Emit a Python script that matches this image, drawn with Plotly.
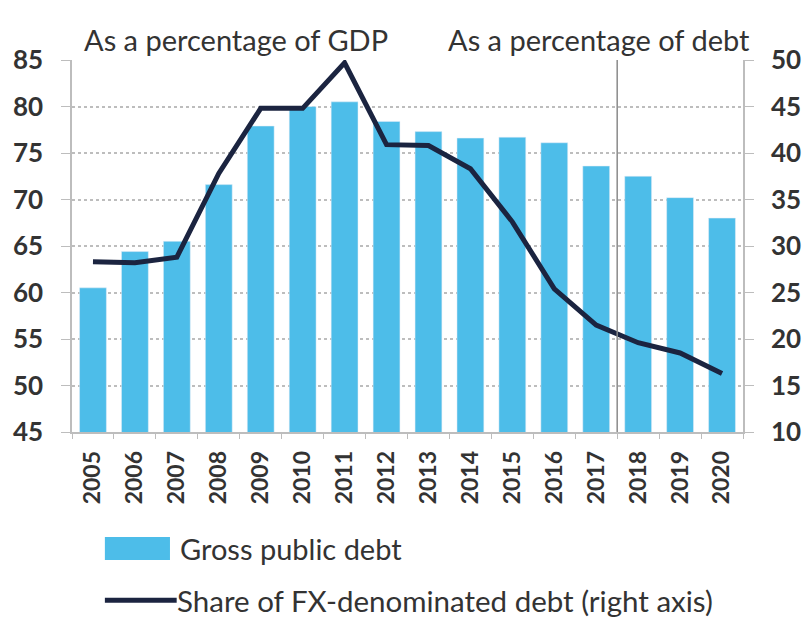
import plotly.graph_objects as go

years = [str(y) for y in range(2005, 2021)]
gross_public_debt = [60.5, 64.4, 65.5, 71.6, 77.9, 80.0, 80.5, 78.4, 77.3, 76.6, 76.7, 76.1, 73.6, 72.5, 70.2, 68.0]
fx_share = [28.3, 28.2, 28.8, 37.8, 44.8, 44.8, 49.7, 40.9, 40.8, 38.3, 32.6, 25.4, 21.5, 19.6, 18.5, 16.3]

left_ticks = [45, 50, 55, 60, 65, 70, 75, 80, 85]
right_ticks = [10, 15, 20, 25, 30, 35, 40, 45, 50]

BAR = "#4dbde9"
LINE = "#1b2440"
FONT = "Lato"
TXT = "#333333"
GRID = "#bdbdbd"

fig = go.Figure()
fig.add_trace(go.Bar(x=years, y=gross_public_debt, marker_color=BAR, name="Gross public debt",
                     yaxis="y", showlegend=False))
fig.add_trace(go.Scatter(x=years, y=fx_share, mode="lines", line=dict(color=LINE, width=5),
                         name="Share of FX-denominated debt (right axis)", yaxis="y2", showlegend=False))

fig.update_layout(
    width=806, height=617,
    margin=dict(l=72, r=63, t=60, b=185),
    paper_bgcolor="white", plot_bgcolor="white",
    bargap=0.36,
    font=dict(family=FONT, color=TXT, size=26),
    xaxis=dict(type="category", tickangle=-90, showgrid=False, showline=True, linecolor=GRID,
               linewidth=1.5, ticks="outside", ticklen=5, tickcolor=GRID, tickson="boundaries",
               tickfont=dict(family=FONT, size=23, color=TXT, weight="bold"), range=[-0.5, 15.5],
               ticklabelstandoff=8, automargin=False),
    yaxis=dict(range=[45, 85], tickvals=left_ticks, showgrid=True, gridcolor=GRID, griddash="dot",
               gridwidth=1.5, showline=True, linecolor=GRID, linewidth=1.5, ticks="outside",
               ticklen=9, tickcolor=GRID, zeroline=False, automargin=False,
               tickfont=dict(family=FONT, size=26, color=TXT, weight="bold"), ticklabelstandoff=13),
    yaxis2=dict(range=[10, 50], tickvals=right_ticks, overlaying="y", side="right", showgrid=False,
                showline=True, linecolor=GRID, linewidth=1.5, ticks="outside", ticklen=9,
                tickcolor=GRID, zeroline=False, automargin=False,
                tickfont=dict(family=FONT, size=26, color=TXT, weight="bold"), ticklabelstandoff=12),
    showlegend=False,
)

# separator between actual and forecast
fig.add_shape(type="line", xref="x", yref="paper", x0=12.5, x1=12.5, y0=0, y1=1,
              line=dict(color="#8a8a8a", width=1.5))

fig.add_annotation(text="As a percentage of GDP", xref="paper", yref="paper", x=0.244, y=1.054,
                   yanchor="middle", xanchor="center", showarrow=False, font=dict(size=29))
fig.add_annotation(text="As a percentage of debt", xref="paper", yref="paper", x=0.785, y=1.054,
                   yanchor="middle", xanchor="center", showarrow=False, font=dict(size=29))

# custom legend
fig.add_shape(type="rect", xref="paper", yref="paper", x0=0.049, x1=0.146, y0=-0.344, y1=-0.282,
              fillcolor=BAR, line=dict(width=0))
fig.add_annotation(text="Gross public debt", xref="paper", yref="paper", x=0.158, y=-0.312,
                   xanchor="left", yanchor="middle", showarrow=False, font=dict(size=29))
fig.add_shape(type="line", xref="paper", yref="paper", x0=0.049, x1=0.156, y0=-0.452, y1=-0.452,
              line=dict(color=LINE, width=5))
fig.add_annotation(text="Share of FX-denominated debt (right axis)", xref="paper", yref="paper",
                   x=0.154, y=-0.452, xanchor="left", yanchor="middle", showarrow=False,
                   font=dict(size=29.5))

fig.write_html("out.html", config={"displayModeBar": False},
               post_script="document.body.style.margin='0';document.body.style.overflow='hidden';")
